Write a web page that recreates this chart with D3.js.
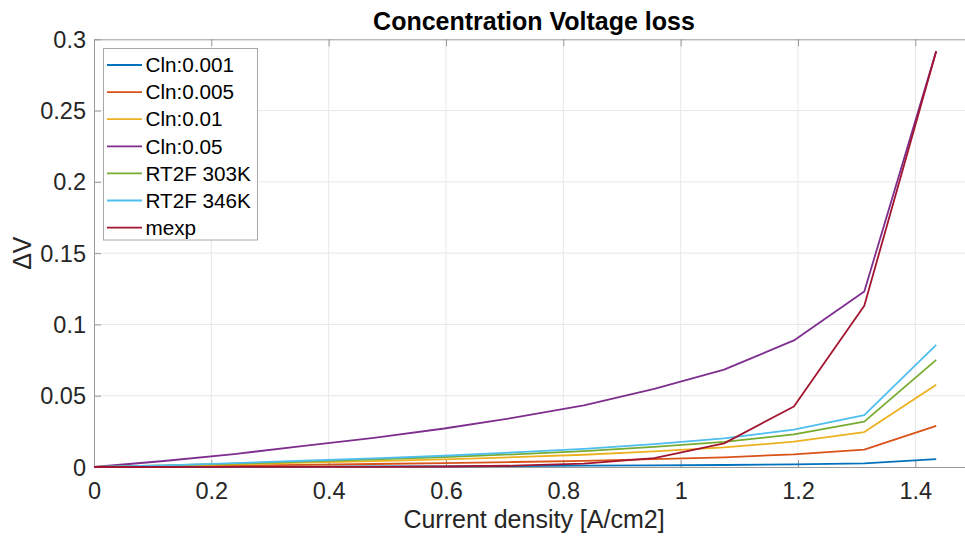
<!DOCTYPE html>
<html>
<head>
<meta charset="utf-8">
<script src="https://cdn.jsdelivr.net/npm/d3@7"></script>
<style>
  html, body { margin: 0; padding: 0; background: #fff; }
  svg { display: block; font-family: "Liberation Sans", Arial, Helvetica, sans-serif; }
</style>
</head>
<body>
<svg id="chart" width="965" height="539"></svg>
<script>
// ---- data ----
const currentDensity = [0, 0.119, 0.239, 0.358, 0.477, 0.597, 0.716, 0.835, 0.955, 1.074, 1.193, 1.313, 1.4356];
const seriesNames = ["Cln:0.001", "Cln:0.005", "Cln:0.01", "Cln:0.05", "RT2F 303K", "RT2F 346K", "mexp"];
const seriesColors = ["#0072BD", "#D95319", "#EDB120", "#7E2F8E", "#77AC30", "#4DBEEE", "#A2142F"];
const cln0001 = [0, 0.0001, 0.0002, 0.0003, 0.0004, 0.0005, 0.0007, 0.0009, 0.0011, 0.0014, 0.0018, 0.0025, 0.0055];
const cln0005 = [0, 0.0004, 0.0009, 0.0015, 0.0021, 0.0027, 0.0035, 0.0043, 0.0055, 0.0068, 0.0089, 0.0122, 0.0288];
const cln001  = [0, 0.0008, 0.0018, 0.0030, 0.0041, 0.0054, 0.0069, 0.0086, 0.0110, 0.0137, 0.0178, 0.0245, 0.0577];
const cln005  = [0, 0.0042, 0.0091, 0.0148, 0.0205, 0.0270, 0.0346, 0.0432, 0.0548, 0.0683, 0.0888, 0.1231, 0.2917];
const rt2f303 = [0, 0.0011, 0.0023, 0.0038, 0.0053, 0.0070, 0.0089, 0.0111, 0.0141, 0.0176, 0.0229, 0.0318, 0.0751];
const rt2f346 = [0, 0.0012, 0.0027, 0.0044, 0.0060, 0.0079, 0.0102, 0.0127, 0.0161, 0.0201, 0.0262, 0.0364, 0.0857];
const mexp    = [0, 0.00001, 0.00003, 0.00006, 0.00014, 0.00036, 0.0009, 0.0024, 0.0062, 0.0166, 0.0424, 0.1131, 0.2917];
const seriesValues = [cln0001, cln0005, cln001, cln005, rt2f303, rt2f346, mexp];
const xTicks = [0, 0.2, 0.4, 0.6, 0.8, 1, 1.2, 1.4];
const yTicks = [0, 0.05, 0.1, 0.15, 0.2, 0.25, 0.3];
const titleText = "Concentration Voltage loss";
const xLabelText = "Current density [A/cm2]";
const yLabelText = "ΔV";

// ---- layout ----
const L = 94, T = 39.3, R = 974, B = 467;
const svg = d3.select("#chart");
const x = d3.scaleLinear().domain([0, 1.5]).range([L, R]);
const y = d3.scaleLinear().domain([0, 0.3]).range([B, T]);
const axisCol = "#9a9a9a", textCol = "#262626", gridCol = "#e8e8e8";

// grid
const g = svg.append("g");
g.selectAll(".gx").data(xTicks.filter(d => d > 0)).enter().append("line")
  .attr("x1", d => x(d)).attr("x2", d => x(d)).attr("y1", T).attr("y2", B)
  .attr("stroke", gridCol).attr("stroke-width", 1);
g.selectAll(".gy").data(yTicks.filter(d => d > 0 && d < 0.3)).enter().append("line")
  .attr("x1", L).attr("x2", R).attr("y1", d => y(d)).attr("y2", d => y(d))
  .attr("stroke", gridCol).attr("stroke-width", 1);

// axes with D3 axis generators (inner ticks)
const fmt = d => d3.format("~g")(d);
const xAxis = svg.append("g").attr("transform", `translate(0,${B})`)
  .call(d3.axisBottom(x).tickValues(xTicks).tickFormat(fmt).tickSizeInner(-7).tickSizeOuter(0).tickPadding(16));
const xAxisTop = svg.append("g").attr("transform", `translate(0,${T})`)
  .call(d3.axisTop(x).tickValues(xTicks).tickFormat("").tickSizeInner(-7).tickSizeOuter(0));
const yAxis = svg.append("g").attr("transform", `translate(${L},0)`)
  .call(d3.axisLeft(y).tickValues(yTicks).tickFormat(fmt).tickSizeInner(-7).tickSizeOuter(0).tickPadding(8));
const yAxisRight = svg.append("g").attr("transform", `translate(${R},0)`)
  .call(d3.axisRight(y).tickValues(yTicks).tickFormat("").tickSizeInner(-7).tickSizeOuter(0));
[xAxis, xAxisTop, yAxis, yAxisRight].forEach(a => {
  a.select(".domain").attr("stroke", axisCol).attr("stroke-width", 1);
  a.selectAll(".tick line").attr("stroke", axisCol).attr("stroke-width", 1);
  a.selectAll("text").attr("fill", textCol).style("font-size", "23.5px")
    .style("font-family", '"Liberation Sans", Arial, sans-serif');
});
xAxis.selectAll("text").attr("dy", "0.71em").attr("y", 15);
yAxis.selectAll("text").attr("dy", "0.34em");

// lines
const line = d3.line().x((d, i) => x(currentDensity[i])).y(d => y(d));
const plot = svg.append("g");
seriesValues.forEach((vals, k) => {
  plot.append("path").datum(vals).attr("d", line)
    .attr("fill", "none").attr("stroke", seriesColors[k]).attr("stroke-width", 1.8)
    .attr("stroke-linejoin", "round");
});

// title and labels
svg.append("text").attr("x", (L + R) / 2).attr("y", 30).attr("text-anchor", "middle")
  .attr("font-weight", "bold").attr("font-size", 25).attr("fill", "#000").text(titleText);
svg.append("text").attr("x", (L + R) / 2).attr("y", 528).attr("text-anchor", "middle")
  .attr("font-size", 25).attr("fill", textCol).text(xLabelText);
svg.append("text").attr("transform", `translate(31,${(T + B) / 2}) rotate(-90)`)
  .attr("text-anchor", "middle").attr("font-size", 25).attr("fill", textCol).text(yLabelText);

// legend
const lg = svg.append("g");
lg.append("rect").attr("x", 103.5).attr("y", 48.5).attr("width", 154).attr("height", 191.5)
  .attr("fill", "#fff").attr("stroke", "#a8a8a8").attr("stroke-width", 1);
seriesNames.forEach((name, k) => {
  const cy = 65 + k * 27.1;
  lg.append("line").attr("x1", 107).attr("x2", 142).attr("y1", cy).attr("y2", cy)
    .attr("stroke", seriesColors[k]).attr("stroke-width", 1.8);
  lg.append("text").attr("x", 145.5).attr("y", cy).attr("dy", "0.35em")
    .attr("font-size", 20.7).attr("fill", "#000").text(name);
});
</script>
</body>
</html>
